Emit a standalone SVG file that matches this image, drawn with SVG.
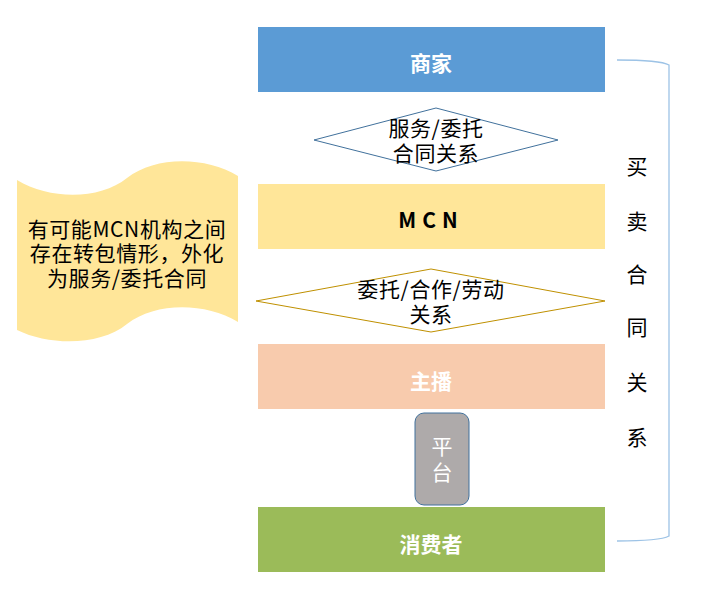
<svg xmlns="http://www.w3.org/2000/svg" width="708" height="610" viewBox="0 0 708 610">
<style>
text{font-family:"Microsoft YaHei","Noto Sans CJK SC","Noto Sans",sans-serif;font-size:21px;text-anchor:middle;dominant-baseline:central}
.bar{stroke:none}
.lbl{font-weight:bold;fill:#fff}
.dk{fill:#000}
.sp{letter-spacing:0.6px}
</style>
<rect width="708" height="610" fill="#fff"/>
<g id="scroll">
<path d="M17,180 C50,200 100,200 127,178 C155,156 205,156 238,176 L238,322 C205,302 155,302 127,324 C100,346 50,346 17,330 Z" fill="#ffe699"/>
<text x="127" y="228" class="dk sp">有可能MCN机构之间</text>
<text x="127" y="252" class="dk sp">存在转包情形，外化</text>
<text x="127" y="277" class="dk sp">为服务/委托合同</text>
</g>
<g id="merchant">
<rect class="bar" x="258" y="27" width="347" height="65" fill="#5b9bd5"/>
<text x="431" y="62" class="lbl">商家</text>
</g>
<g id="rel1">
<polygon points="314,140 436,108 558,140 436,171" fill="#fff" stroke="#41719c" stroke-width="1"/>
<text x="436" y="127" class="dk sp">服务/委托</text>
<text x="436" y="152" class="dk sp">合同关系</text>
</g>
<g id="mcn">
<rect class="bar" x="258" y="184" width="347" height="65" fill="#ffe699"/>
<text x="431" y="219" class="dk" font-weight="bold" font-size="22" letter-spacing="6">MCN</text>
</g>
<g id="rel2">
<polygon points="256,301 431,269 605,301 431,332" fill="#fff" stroke="#bf9000" stroke-width="1"/>
<text x="431" y="288" class="dk sp">委托/合作/劳动</text>
<text x="431" y="313" class="dk sp">关系</text>
</g>
<g id="anchor">
<rect class="bar" x="258" y="344" width="347" height="65" fill="#f8cbad"/>
<text x="431" y="380" class="lbl">主播</text>
</g>
<g id="platform">
<rect x="415" y="413" width="54" height="92" rx="9" fill="#aeaaaa" stroke="#41719c" stroke-width="1"/>
<text x="442" y="445" fill="#fff">平</text>
<text x="442" y="471" fill="#fff">台</text>
</g>
<g id="consumer">
<rect class="bar" x="258" y="507" width="347" height="65" fill="#9bbb59"/>
<text x="431" y="543" class="lbl">消费者</text>
</g>
<g id="connectors">
<path d="M617,60 Q660,60 669,65 L669,536 Q660,541 617,541" fill="none" stroke="#9dc3e6" stroke-width="1.3"/>
</g>
<g id="contract">
<text x="637" y="165" class="dk">买</text>
<text x="637" y="220" class="dk">卖</text>
<text x="637" y="273" class="dk">合</text>
<text x="637" y="326" class="dk">同</text>
<text x="637" y="381" class="dk">关</text>
<text x="637" y="436" class="dk">系</text>
</g>
</svg>
